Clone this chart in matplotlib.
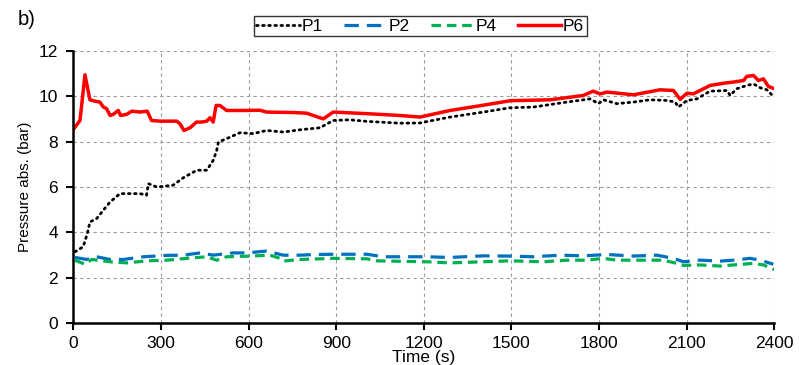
import matplotlib
matplotlib.use("Agg")
import matplotlib.pyplot as plt

plt.rcParams['font.family'] = ['Liberation Sans', 'DejaVu Sans']

# Pressure traces (time in s, absolute pressure in bar)
t_p1 = [6, 34, 48, 57, 80, 103, 126, 160, 194, 228, 251, 257, 286, 342, 377, 423, 457, 479,
        491, 497, 525, 571, 616, 662, 719, 776, 845, 890, 947, 1005, 1119, 1187, 1290, 1404,
        1496, 1575, 1690, 1770, 1798, 1815, 1861, 1918, 1975, 2032, 2061, 2072, 2101, 2135,
        2180, 2238, 2249, 2272, 2306, 2329, 2352, 2375, 2397]
p1 = [3.15, 3.37, 3.95, 4.46, 4.61, 4.98, 5.34, 5.71, 5.71, 5.71, 5.64, 6.15, 6.0, 6.08, 6.41,
      6.74, 6.74, 7.17, 7.61, 7.98, 8.13, 8.39, 8.35, 8.49, 8.42, 8.52, 8.61, 8.93, 8.96, 8.89,
      8.81, 8.82, 9.08, 9.3, 9.49, 9.52, 9.74, 9.88, 9.67, 9.84, 9.67, 9.74, 9.84, 9.81, 9.74,
      9.52, 9.81, 9.88, 10.22, 10.25, 10.03, 10.33, 10.47, 10.54, 10.37, 10.28, 9.99]

t_p2 = [6, 46, 80, 126, 171, 240, 320, 377, 434, 479, 548, 594, 662, 697, 719, 776, 833, 890,
        947, 1005, 1062, 1119, 1210, 1290, 1404, 1496, 1575, 1667, 1746, 1827, 1918, 1998,
        2055, 2089, 2146, 2215, 2260, 2317, 2352, 2397]
p2 = [2.9, 2.81, 2.93, 2.81, 2.81, 2.93, 2.99, 3.0, 3.1, 3.0, 3.1, 3.1, 3.18, 3.07, 3.0, 3.0,
      3.03, 3.04, 3.04, 3.04, 2.93, 2.93, 2.93, 2.9, 2.97, 2.96, 2.93, 3.0, 2.97, 3.03, 2.96,
      3.0, 2.86, 2.71, 2.78, 2.74, 2.78, 2.86, 2.78, 2.6]

t_p4 = [6, 40, 63, 126, 183, 251, 320, 388, 457, 491, 525, 605, 674, 708, 719, 776, 890, 1005,
        1039, 1119, 1210, 1290, 1404, 1496, 1610, 1690, 1758, 1815, 1861, 1941, 2021, 2066,
        2089, 2146, 2215, 2260, 2329, 2363, 2400]
p4 = [2.78, 2.6, 2.81, 2.71, 2.66, 2.75, 2.78, 2.86, 2.93, 2.78, 2.93, 2.96, 3.0, 2.86, 2.74,
      2.81, 2.86, 2.84, 2.75, 2.73, 2.71, 2.66, 2.71, 2.75, 2.71, 2.78, 2.78, 2.86, 2.78, 2.78,
      2.78, 2.64, 2.55, 2.57, 2.52, 2.57, 2.64, 2.57, 2.37]

t_p6 = [2, 23, 40, 57, 74, 91, 103, 114, 126, 137, 154, 162, 183, 200, 228, 253, 268, 297, 354,
        365, 379, 400, 422, 440, 457, 468, 479, 489, 502, 525, 582, 639, 662, 753, 799, 856, 890,
        1005, 1119, 1187, 1290, 1403, 1496, 1632, 1746, 1780, 1804, 1827, 1918, 2009, 2055,
        2078, 2101, 2123, 2180, 2226, 2260, 2295, 2306, 2329, 2346, 2363, 2380, 2400]
p6 = [8.57, 8.93, 10.94, 9.84, 9.78, 9.74, 9.52, 9.45, 9.15, 9.2, 9.37, 9.15, 9.2, 9.34, 9.3,
      9.34, 8.93, 8.9, 8.9, 8.79, 8.49, 8.61, 8.86, 8.86, 8.9, 9.05, 8.86, 9.59, 9.59, 9.37,
      9.37, 9.38, 9.3, 9.28, 9.25, 9.0, 9.3, 9.23, 9.15, 9.08, 9.37, 9.6, 9.8, 9.84, 10.03,
      10.22, 10.1, 10.18, 10.06, 10.28, 10.25, 9.86, 10.13, 10.1, 10.47, 10.57, 10.62, 10.69,
      10.87, 10.91, 10.69, 10.76, 10.43, 10.33]

x_ticks = [0, 300, 600, 900, 1200, 1500, 1800, 2100, 2400]
y_ticks = [0, 2, 4, 6, 8, 10, 12]

fig = plt.figure(figsize=(7.99, 3.65), dpi=100)
ax = fig.add_axes([0.0917, 0.1142, 0.8773, 0.7468])

ax.plot(t_p1, p1, color='black', lw=2.0, linestyle=(0, (0.6, 1.6)),
        dash_capstyle='round', label='P1')
ax.plot(t_p2, p2, color='#0070C0', lw=2.3, linestyle=(0, (4.5, 2.5)), label='P2')
ax.plot(t_p4, p4, color='#00B050', lw=2.3, linestyle=(0, (3, 1.8)), label='P4')
ax.plot(t_p6, p6, color='#FF0000', lw=2.5, label='P6')

ax.set_xlim(0, 2400)
ax.set_ylim(0, 12)
ax.set_xticks(x_ticks)
ax.set_yticks(y_ticks)
ax.grid(True, color='#9a9a9a', linestyle=(0, (3, 3)), linewidth=0.8)
ax.set_axisbelow(True)

for s in ('top', 'right'):
    ax.spines[s].set_visible(False)
for s in ('left', 'bottom'):
    ax.spines[s].set_linewidth(1.8)
    ax.spines[s].set_color('black')

ax.tick_params(axis='both', direction='out', length=5, width=1.5, labelsize=12.5,
               colors='black', pad=4)
ax.tick_params(axis='y', pad=6)

ax.set_xlabel('Time (s)', fontsize=12.5, labelpad=-0.5)
ax.set_ylabel('Pressure abs. (bar)', fontsize=11, labelpad=5)

leg = fig.legend(loc='center', bbox_to_anchor=(0.526, 0.9285), ncol=4, fontsize=12.5,
                 frameon=True, fancybox=False, edgecolor='black', handlelength=2.5,
                 handletextpad=0.1, columnspacing=1.2, borderpad=0.15, borderaxespad=0)
leg.get_frame().set_linewidth(1.0)

fig.text(0.022, 0.947, 'b)', fontsize=14.5, ha='left', va='center')

fig.savefig('out.png', dpi=100)
